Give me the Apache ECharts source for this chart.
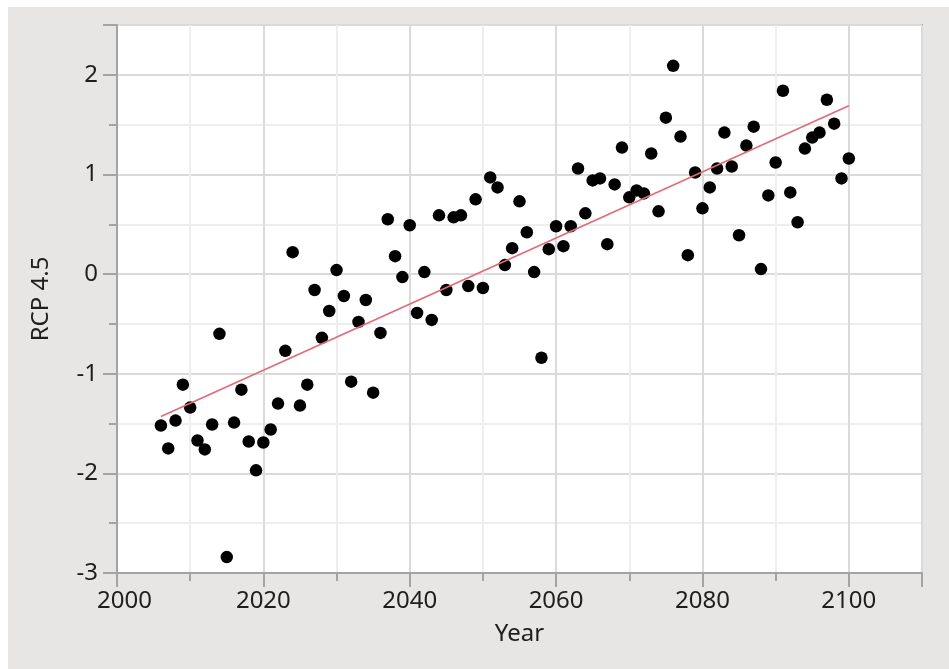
<!DOCTYPE html>
<html>
<head>
<meta charset="utf-8">
<script src="https://cdn.jsdelivr.net/npm/echarts@6/dist/echarts.min.js"></script>
<style>
html,body{margin:0;padding:0;background:#ffffff;}
#chart{width:949px;height:669px;}
</style>
</head>
<body>
<div id="chart"></div>
<script>
const years = [2006,2007,2008,2009,2010,2011,2012,2013,2014,2015,2016,2017,2018,2019,2020,2021,2022,2023,2024,2025,
2026,2027,2028,2029,2030,2031,2032,2033,2034,2035,2036,2037,2038,2039,2040,2041,2042,2043,2044,2045,
2046,2047,2048,2049,2050,2051,2052,2053,2054,2055,2056,2057,2058,2059,2060,2061,2062,2063,2064,2065,
2066,2067,2068,2069,2070,2071,2072,2073,2074,2075,2076,2077,2078,2079,2080,2081,2082,2083,2084,2085,
2086,2087,2088,2089,2090,2091,2092,2093,2094,2095,2096,2097,2098,2099,2100];
const rcp45 = [-1.52,-1.75,-1.47,-1.11,-1.34,-1.67,-1.76,-1.51,-0.60,-2.84,-1.49,-1.16,-1.68,-1.97,-1.69,-1.56,-1.30,-0.77,0.22,-1.32,
-1.11,-0.16,-0.64,-0.37,0.04,-0.22,-1.08,-0.48,-0.26,-1.19,-0.59,0.55,0.18,-0.03,0.49,-0.39,0.02,-0.46,0.59,-0.16,
0.57,0.59,-0.12,0.75,-0.14,0.97,0.87,0.09,0.26,0.73,0.42,0.02,-0.84,0.25,0.48,0.28,0.48,1.06,0.61,0.94,
0.96,0.30,0.90,1.27,0.77,0.84,0.81,1.21,0.63,1.57,2.09,1.38,0.19,1.02,0.66,0.87,1.06,1.42,1.08,0.39,
1.29,1.48,0.05,0.79,1.12,1.84,0.82,0.52,1.26,1.37,1.42,1.75,1.51,0.96,1.16];
const fitYears = [2006, 2100];
const fitValues = [-1.43, 1.69];
const xTicks = [2000, 2020, 2040, 2060, 2080, 2100];
const yTicks = [-3, -2, -1, 0, 1, 2];

const FONT = 'Noto Sans';
const labelColor = '#1e1e1e';
const axisColor = '#a3a3a3';

const chart = echarts.init(document.getElementById('chart'), null, {renderer: 'canvas'});
const option = {
  backgroundColor: '#ffffff',
  animation: false,
  graphic: [{
    type: 'rect', z: -10, silent: true,
    shape: {x: 8, y: 7, width: 941, height: 662},
    style: {fill: '#e7e6e4'}
  }],
  grid: {
    left: 117, top: 25, right: 27, bottom: 96,
    show: true, backgroundColor: '#ffffff', borderColor: axisColor, borderWidth: 2,
    containLabel: false, outerBoundsMode: 'none'
  },
  xAxis: {
    type: 'value', min: xTicks[0], max: 2110, interval: 20,
    name: 'Year', nameLocation: 'middle', nameGap: 49,
    nameTextStyle: {fontFamily: FONT, fontSize: 24, color: labelColor},
    axisLine: {show: true, onZero: false, lineStyle: {color: axisColor, width: 2}},
    axisTick: {show: true, length: 14, lineStyle: {color: axisColor, width: 2}},
    minorTick: {show: true, splitNumber: 2, length: 8, lineStyle: {color: axisColor, width: 2}},
    splitLine: {show: true, lineStyle: {color: '#dadada', width: 2}},
    minorSplitLine: {show: true, lineStyle: {color: '#eeeeee', width: 2}},
    axisLabel: {
      show: true, margin: 16, fontFamily: FONT, fontSize: 24, color: labelColor,
      showMaxLabel: false,
      formatter: function (v) {
        if (xTicks.indexOf(v) < 0) return '';
        return v === xTicks[0] ? '{s|' + v + '}' : String(v);
      },
      rich: {s: {fontFamily: FONT, fontSize: 24, color: labelColor, padding: [0, 0, 0, 15]}}
    }
  },
  yAxis: {
    type: 'value', min: yTicks[0], max: 2.5, interval: 1,
    name: 'RCP 4.5', nameLocation: 'middle', nameGap: 64, nameRotate: 90,
    nameTextStyle: {fontFamily: FONT, fontSize: 24, color: labelColor},
    axisLine: {show: true, onZero: false, lineStyle: {color: axisColor, width: 2}},
    axisTick: {show: true, length: 14, lineStyle: {color: axisColor, width: 2}},
    minorTick: {show: true, splitNumber: 2, length: 8, lineStyle: {color: axisColor, width: 2}},
    splitLine: {show: true, lineStyle: {color: '#dadada', width: 2}},
    minorSplitLine: {show: true, lineStyle: {color: '#eeeeee', width: 2}},
    axisLabel: {
      show: true, margin: 19, fontFamily: FONT, fontSize: 24, color: labelColor,
      showMaxLabel: false,
      formatter: function (v) { return yTicks.indexOf(v) < 0 ? '' : String(v); }
    }
  },
  series: [
    {
      type: 'scatter',
      data: years.map((y, i) => [y, rcp45[i]]),
      symbol: 'circle', symbolSize: 12.5,
      itemStyle: {color: '#000000', opacity: 1},
      z: 3
    },
    {
      type: 'line',
      data: fitYears.map((y, i) => [y, fitValues[i]]),
      showSymbol: false, symbol: 'none',
      lineStyle: {color: '#e26a78', width: 1.6, opacity: 1},
      z: 4
    }
  ]
};
chart.setOption(option);
</script>
</body>
</html>
